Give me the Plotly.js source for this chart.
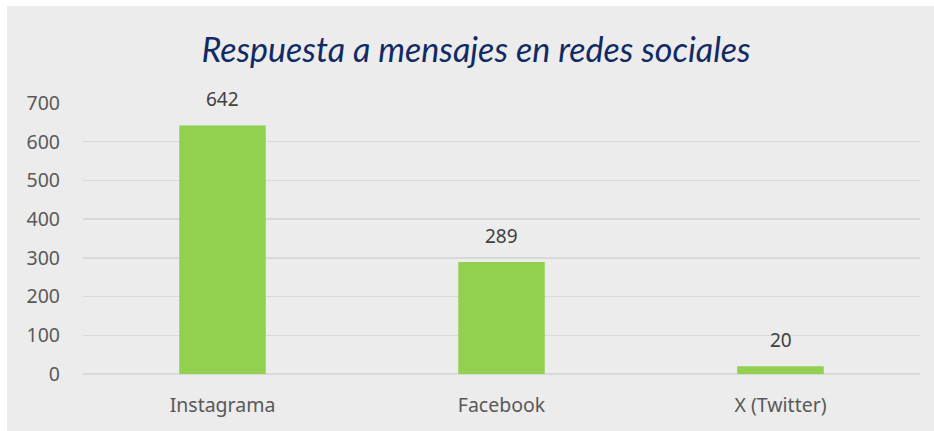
<!DOCTYPE html>
<html>
<head>
<meta charset="utf-8">
<script src="https://cdn.plot.ly/plotly-3.0.1.min.js"></script>
<style>
  html, body { margin: 0; padding: 0; background: #fff; }
  #chart { position: absolute; left: 7px; top: 6px; width: 927px; height: 425px; }
</style>
</head>
<body>
<div id="chart"></div>
<script>
var categories = ["Instagrama", "Facebook", "X (Twitter)"];
var values = [642, 289, 20];
var yTicks = [0, 100, 200, 300, 400, 500, 600, 700];

var BG = "#ececec", GRID = "#d9d9d9", TXT = "#595959";

var bars = {
  type: "bar", x: categories, y: values, width: 0.31,
  marker: { color: "#92d050" }, hoverinfo: "x+y"
};

var labels = categories.map(function (c, i) {
  return { x: c, y: values[i], text: String(values[i]), showarrow: false,
    yanchor: "middle", yshift: 26, font: { family: "Noto Sans, sans-serif", size: 19, color: "#404040" } };
});

Plotly.newPlot("chart", [bars], {
  width: 927, height: 425,
  margin: { l: 76, r: 14, t: 97, b: 57 },
  paper_bgcolor: BG, plot_bgcolor: BG,
  title: { text: "<i>Respuesta a mensajes en redes sociales</i>",
    font: { family: "Lato, sans-serif", size: 34, color: "#112a64" },
    x: 0.506, xanchor: "center", y: 1 - 44 / 425, yanchor: "middle" },
  xaxis: { showgrid: false, showline: false, ticks: "", ticklabelstandoff: 17,
    tickfont: { family: "Noto Sans, sans-serif", size: 19.5, color: TXT } },
  yaxis: { range: [0, 700], tickvals: yTicks, gridcolor: GRID, gridwidth: 1.5,
    zeroline: true, zerolinecolor: GRID, zerolinewidth: 1.5, ticklabelstandoff: 22,
    tickfont: { family: "Noto Sans, sans-serif", size: 19.5, color: TXT } },
  annotations: labels,
  showlegend: false
}, { displayModeBar: false, staticPlot: true });
</script>
</body>
</html>
